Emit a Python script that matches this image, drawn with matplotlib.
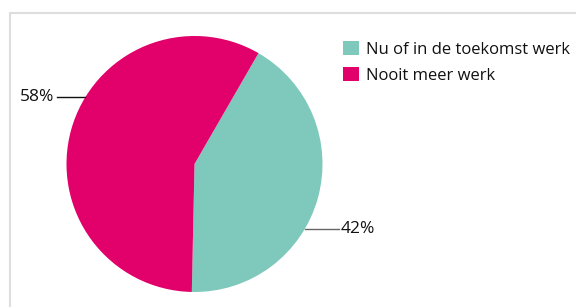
import matplotlib
matplotlib.use("Agg")
import matplotlib.pyplot as plt
import numpy as np

plt.rcParams['font.family'] = ['Open Sans', 'DejaVu Sans']

labels = ["Nu of in de toekomst werk", "Nooit meer werk"]
values = [42, 58]
pct_labels = ["42%", "58%"]
colors = ["#7fc9bc", "#e2006b"]

W, H = 576, 307
fig = plt.figure(figsize=(W / 100, H / 100), dpi=100)
ax = fig.add_axes([0, 0, 1, 1])

# light frame (left and top)
ax.plot([10, 10, W], [0, H - 13, H - 13], color="#dddddd", lw=1.5, solid_joinstyle='miter')

cx, cy, r = 194.5, H - 164, 128
wedges, _ = ax.pie(values, colors=colors, startangle=60, counterclock=False,
                   center=(cx, cy), radius=r, frame=True,
                   wedgeprops=dict(linewidth=0))
ax.set_xlim(0, W)
ax.set_ylim(0, H)
ax.set_aspect('equal')
ax.axis('off')

# percentage labels with short leader lines
label_angles = [-30.5, 148.5]
line_colors = ["#666666", "#111111"]
for txt, ang, lc in zip(pct_labels, label_angles, line_colors):
    a = np.deg2rad(ang)
    ex, ey = cx + r * np.cos(a), cy + r * np.sin(a)
    if np.cos(a) > 0:
        ax.plot([ex, ex + 34], [ey, ey], color=lc, lw=1)
        ax.text(ex + 36, ey, txt, ha='left', va='center', fontsize=12.5, color="#111111")
    else:
        ax.plot([ex - 28, ex], [ey, ey], color=lc, lw=1)
        ax.text(ex - 31, ey, txt, ha='right', va='center', fontsize=12.5, color="#111111")

ax.legend(wedges, labels, loc='upper left', bbox_to_anchor=(343, H - 41),
          bbox_transform=ax.transData, frameon=False, fontsize=12,
          handlelength=0.97, handleheight=0.9, handletextpad=0.4,
          labelspacing=0.58, borderpad=0, borderaxespad=0, labelcolor="#111111")

fig.savefig("out.png", dpi=100)
